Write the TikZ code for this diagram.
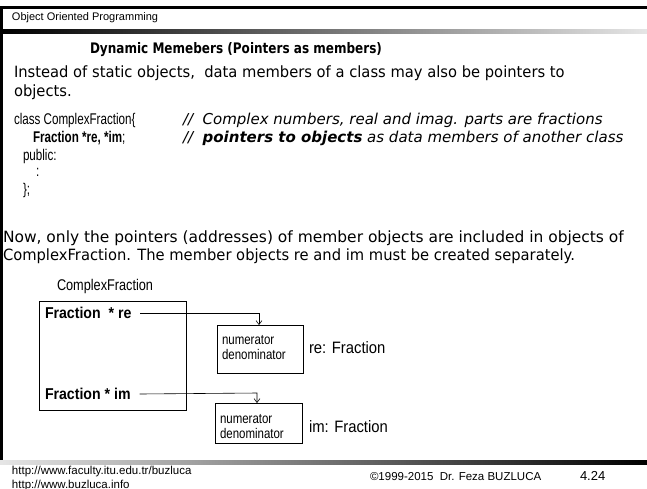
\documentclass[tikz,border=0pt]{standalone}
\usepackage{fontspec}
\usetikzlibrary{arrows.meta}
\setmainfont{DejaVu Sans}
\newfontfamily\comic[FakeStretch=0.95]{DejaVu Sans}
\newfontfamily\comictitle[FakeStretch=0.83]{DejaVu Sans}
\newfontfamily\remark{DejaVu Sans}
\newfontfamily\condensed[FakeStretch=0.75]{Liberation Sans}
\newfontfamily\narrow[FakeStretch=0.82]{Liberation Sans}
\newfontfamily\semi[FakeStretch=0.9]{Liberation Sans}
\newfontfamily\plain{Liberation Sans}
\begin{document}
\begin{tikzpicture}[x=1pt,y=-1pt,
  every node/.style={inner sep=0pt, outer sep=0pt, anchor=west},
  body/.style={font=\comic\fontsize{15.5}{18}\selectfont},
  code/.style={font=\condensed\fontsize{15.5}{18}\selectfont},
  comment/.style={font=\remark\itshape\fontsize{15}{18}\selectfont},
  lbl/.style={font=\semi\fontsize{16.5}{19}\selectfont},
  field/.style={font=\semi\bfseries\fontsize{15.7}{19}\selectfont},
  small/.style={font=\narrow\fontsize{14}{16}\selectfont},
  foot/.style={font=\plain\fontsize{11.5}{13}\selectfont},
  box/.style={draw, line width=0.8pt},
  link/.style={draw, line width=0.6pt, -{Straight Barb[length=4pt,width=6pt]}}]
\useasboundingbox (0,0) rectangle (647,488);
\fill[white] (0,0) rectangle (647,488);

% slide frame: top rule, left rule and the two shaded bars
\fill[black] (0,6) rectangle (647,9);
\fill[black] (0,6) rectangle (3,462);
\shade[left color=black, right color=black!10] (3,29) rectangle (647,33);
\shade[left color=black!10, right color=black] (0,460) rectangle (647,464);

% header
\node[font=\plain\fontsize{11}{13}\selectfont] (hdr) at (12,18) {Object Oriented Programming};

% title and text
\node[font=\comictitle\bfseries\fontsize{14.5}{17}\selectfont] (title) at (90,50) {Dynamic Memebers (Pointers as members)};
\node[body] (p1a) at (14,73) {Instead of static objects,\ \ data members of a class may also be pointers to};
\node[body] (p1b) at (14,92) {objects.};

% class declaration
\node[code] (c1) at (14,120) {class ComplexFraction\{};
\node[comment] (c1c) at (183,120) {//\ \ Complex numbers, real and imag. parts are fractions};
\node[code] (c2) at (33,138) {\textbf{Fraction *re, *im};};
\node[comment] (c2c) at (183,138) {//\ \ \textbf{pointers to objects} as data members of another class};
\node[code] (c3) at (23,156) {public:};
\node[code] (c4) at (36,172) {:};
\node[code] (c5) at (23,190) {\};};

\node[body] (p2a) at (3,238) {\scalebox{1.05}[1]{Now, only the pointers (addresses) of member objects are included in objects of}};
\node[body] (p2b) at (3,256) {ComplexFraction. The member objects re and im must be created separately.};

% object diagram
\node[font=\narrow\fontsize{15.5}{18}\selectfont] (cfname) at (57,286) {ComplexFraction};
\node[box, anchor=north west, minimum width=147pt, minimum height=109pt] (cf) at (39,301) {};
\node[field] (fre) at (45,313) {Fraction\ \ * re};
\node[field] (fim) at (45,394) {Fraction * im};

\node[box, anchor=north west, minimum width=86pt, minimum height=48pt] (ore) at (217,325) {};
\node[small, align=left] (orei) at (222,348) {numerator\\[-1pt]denominator};
\node[lbl] (orel) at (309,348) {re: Fraction};

\node[box, anchor=north west, minimum width=87pt, minimum height=40pt] (oim) at (215,403) {};
\node[small, align=left] (oimi) at (220,427) {numerator\\[-1pt]denominator};
\node[lbl] (oiml) at (309,427) {im: Fraction};

\coordinate (reto) at (259,313);
\coordinate (imto) at (257,393);
\draw[link] ([xshift=9pt]fre.east) -- (reto) -- (reto |- ore.north);
\draw[link] ([xshift=9pt]fim.east) -- (imto) -- (imto |- oim.north);

% footer
\node[foot] (url1) at (12,472) {http://www.faculty.itu.edu.tr/buzluca};
\node[foot] (url2) at (12,486) {http://www.buzluca.info};
\node[foot] (copy) at (370,477) {©1999-2015\ \ Dr. Feza BUZLUCA};
\node[font=\plain\fontsize{13}{15}\selectfont] (page) at (580,476) {4.24};
\end{tikzpicture}
\end{document}
